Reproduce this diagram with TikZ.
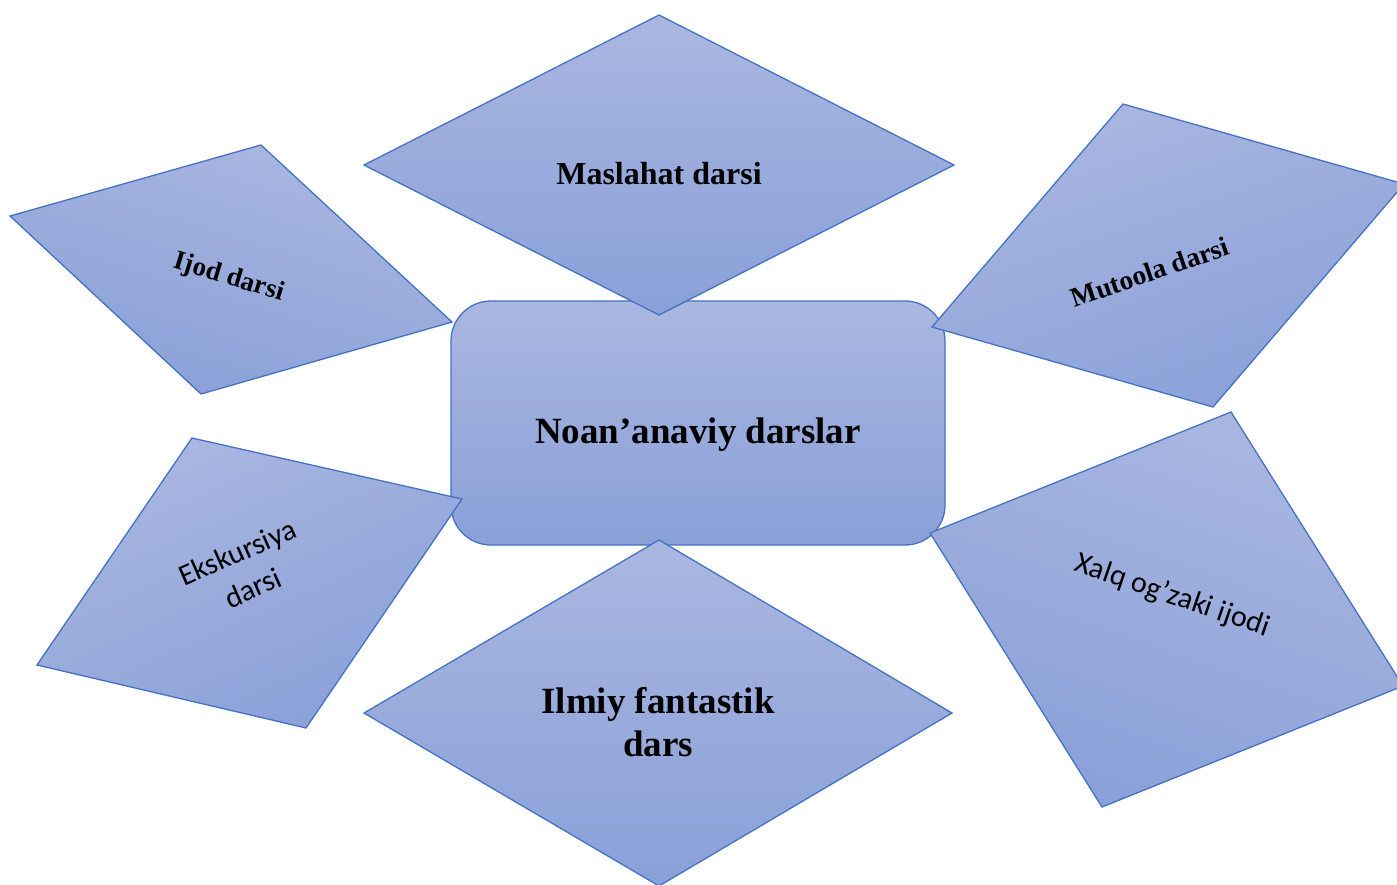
\documentclass[tikz,border=0pt]{standalone}
\usepackage{fontspec}
\setmainfont{Liberation Serif}
\newfontfamily\calibri{Carlito}
\definecolor{lessontop}{RGB}{170,183,224}
\definecolor{lessonbot}{RGB}{137,160,216}
\definecolor{lessonline}{RGB}{68,114,196}

\begin{document}
\begin{tikzpicture}[x=0.5pt,y=-0.5pt,
  lesson/.style={draw=lessonline,line width=0.65pt,top color=lessontop,bottom color=lessonbot},
  title/.style 2 args={font=\bfseries\fontsize{#1}{#2}\selectfont,align=center,inner sep=0pt},
  plain/.style 2 args={font=\calibri\fontsize{#1}{#2}\selectfont,align=center,inner sep=0pt}]
\useasboundingbox (0,0) rectangle (1397,884);
\clip (0,0) rectangle (1397,884);

% centre
\draw[lesson,rounded corners=20pt] (451,301) rectangle (945,545);
\node[title={18.5}{21}] (hub) at (698,435) {Noan’anaviy darslar};

% diamonds
\draw[lesson] (659,15) -- (954,165) -- (659,315) -- (364,165) -- cycle;
\node[title={16}{18}] (maslahat) at (659,174) {Maslahat darsi};

\draw[lesson] (659,540) -- (952,713) -- (659,886) -- (364,713) -- cycle;
\node[title={18.5}{21.5}] (ilmiy) at (658,722) {Ilmiy fantastik\\dars};

% left
\draw[lesson,shading angle=-16.8] (10,216) -- (261,145) -- (452,322) -- (201,394) -- cycle;
\node[title={13.5}{15},rotate=-16.8] (ijod) at (229,278) {Ijod darsi};

\draw[lesson,shading angle=23.7] (192,438) -- (462,499) -- (306,728) -- (37,665) -- cycle;
\node[plain={15}{19.5},rotate=23.7] (ekskursiya) at (245,570) {Ekskursiya\\darsi};

% right
\draw[lesson,shading angle=18.8] (932,327) -- (1123,104) -- (1404,184) -- (1213,407) -- cycle;
\node[title={13.7}{15},rotate=18.8] (mutoola) at (1150,272) {Mutoola darsi};

\draw[lesson,shading angle=-18.8] (930,533) -- (1231,412) -- (1403,686) -- (1102,807) -- cycle;
\node[plain={15}{18},rotate=-18.8] (xalq) at (1172,596) {Xalq og’zaki ijodi};
\end{tikzpicture}
\end{document}
